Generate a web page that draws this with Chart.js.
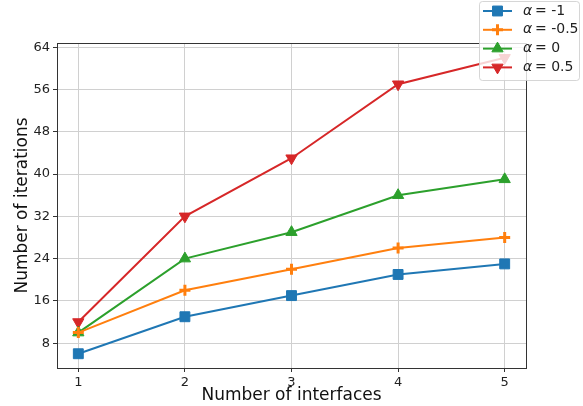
<!DOCTYPE html>
<html>
<head>
<meta charset="utf-8">
<script src="https://cdn.jsdelivr.net/npm/chart.js@4/dist/chart.umd.min.js"></script>
<style>
  html, body { margin: 0; padding: 0; background: #fff; }
  #wrap { width: 583px; height: 406px; }
</style>
</head>
<body>
<div id="wrap"><canvas id="myChart" width="583" height="406"></canvas></div>
<script>
// ===== data =====
const interfaces = [1, 2, 3, 4, 5];
const alphaLabels = ['-1', '-0.5', '0', '0.5'];
const itersAlphaM1 = [6, 13, 17, 21, 23];
const itersAlphaM05 = [10, 18, 22, 26, 28];
const itersAlpha0 = [10, 24, 29, 36, 39];
const itersAlpha05 = [12, 32, 43, 57, 62];
const xTicks = [1, 2, 3, 4, 5];
const yTicks = [8, 16, 24, 32, 40, 48, 56, 64];

const colors = ['#1f77b4', '#ff7f0e', '#2ca02c', '#d62728'];
const seriesList = [itersAlphaM1, itersAlphaM05, itersAlpha0, itersAlpha05];
const markers = [
    { style: 'rect', radius: 7, rotation: 0, width: 1 },
    { style: 'crossRot', radius: 5.5, rotation: 45, width: 3 },
    { style: 'triangle', radius: 6.5, rotation: 0, width: 1 },
    { style: 'triangle', radius: 6.5, rotation: 180, width: 1 }
];

const datasets = seriesList.map((vals, i) => ({
    label: 'α = ' + alphaLabels[i],
    data: interfaces.map((x, j) => ({ x: x, y: vals[j] })),
    borderColor: colors[i],
    backgroundColor: colors[i],
    borderWidth: 2,
    pointStyle: markers[i].style,
    pointRadius: markers[i].radius,
    pointRotation: markers[i].rotation,
    pointBorderWidth: markers[i].width,
    pointHoverRadius: markers[i].radius,
    tension: 0
}));

const FONT = "'DejaVu Sans', sans-serif";

// ===== frame (top / right spines) and legend =====
const framePlugin = {
    id: 'frame',
    afterDraw(chart) {
        const ctx = chart.ctx;
        const a = chart.chartArea;
        ctx.save();
        ctx.strokeStyle = '#333';
        ctx.lineWidth = 1;
        ctx.beginPath();
        ctx.moveTo(a.left, a.top + 0.5);
        ctx.lineTo(a.right + 0.5, a.top + 0.5);
        ctx.lineTo(a.right + 0.5, a.bottom);
        ctx.stroke();

        // legend box (semi transparent, like matplotlib)
        const bx = 479, by = 1, bw = 100, bh = 79;
        ctx.fillStyle = 'rgba(255,255,255,0.8)';
        ctx.strokeStyle = 'rgba(204,204,204,0.8)';
        ctx.lineWidth = 1;
        ctx.beginPath();
        ctx.roundRect(bx + 0.5, by + 0.5, bw, bh, 3);
        ctx.fill();
        ctx.stroke();

        datasets.forEach((ds, i) => {
            const cy = 11 + i * 18.8;
            ctx.strokeStyle = ds.borderColor;
            ctx.lineWidth = 2;
            ctx.beginPath();
            ctx.moveTo(483, cy);
            ctx.lineTo(512, cy);
            ctx.stroke();
            ctx.fillStyle = ds.backgroundColor;
            ctx.strokeStyle = ds.borderColor;
            ctx.lineWidth = ds.pointBorderWidth;
            Chart.helpers.drawPoint(ctx, {
                pointStyle: ds.pointStyle,
                rotation: ds.pointRotation,
                radius: ds.pointRadius,
                borderWidth: ds.pointBorderWidth
            }, 497.5, cy);

            ctx.fillStyle = '#222';
            ctx.textBaseline = 'middle';
            ctx.font = 'italic 14px ' + FONT;
            ctx.fillText('α', 523, cy);
            ctx.font = '14px ' + FONT;
            ctx.fillText('= ' + alphaLabels[i], 535, cy);
        });
        ctx.restore();
    }
};

const ctx = document.getElementById('myChart').getContext('2d');
new Chart(ctx, {
    type: 'line',
    data: { datasets: datasets },
    options: {
        responsive: false,
        animation: false,
        events: [],
        layout: { padding: { top: 43, right: 57, left: 0, bottom: 0 } },
        plugins: {
            legend: { display: false },
            tooltip: { enabled: false }
        },
        scales: {
            x: {
                type: 'linear',
                min: 0.8,
                max: 5.2,
                afterBuildTicks: (scale) => { scale.ticks = xTicks.map(v => ({ value: v })); },
                afterFit: (scale) => { scale.height = 38; },
                grid: { color: '#d0d0d0', tickColor: '#333', tickLength: 4 },
                border: { color: '#333' },
                ticks: { color: '#222', font: { family: FONT, size: 13 }, padding: 3, maxRotation: 0 },
                title: {
                    display: true,
                    text: 'Number of interfaces',
                    color: '#111',
                    font: { family: FONT, size: 17 },
                    padding: { top: 0, bottom: 0 }
                }
            },
            y: {
                type: 'linear',
                min: 3.3,
                max: 64.8,
                afterBuildTicks: (scale) => { scale.ticks = yTicks.map(v => ({ value: v })); },
                afterFit: (scale) => { scale.width = 57; },
                grid: { color: '#d0d0d0', tickColor: '#333', tickLength: 4 },
                border: { color: '#333' },
                ticks: { color: '#222', font: { family: FONT, size: 13 }, padding: 3 },
                title: {
                    display: true,
                    text: 'Number of iterations',
                    color: '#111',
                    font: { family: FONT, size: 17 },
                    padding: { top: 12, bottom: 2 }
                }
            }
        }
    },
    plugins: [framePlugin]
});
</script>
</body>
</html>
